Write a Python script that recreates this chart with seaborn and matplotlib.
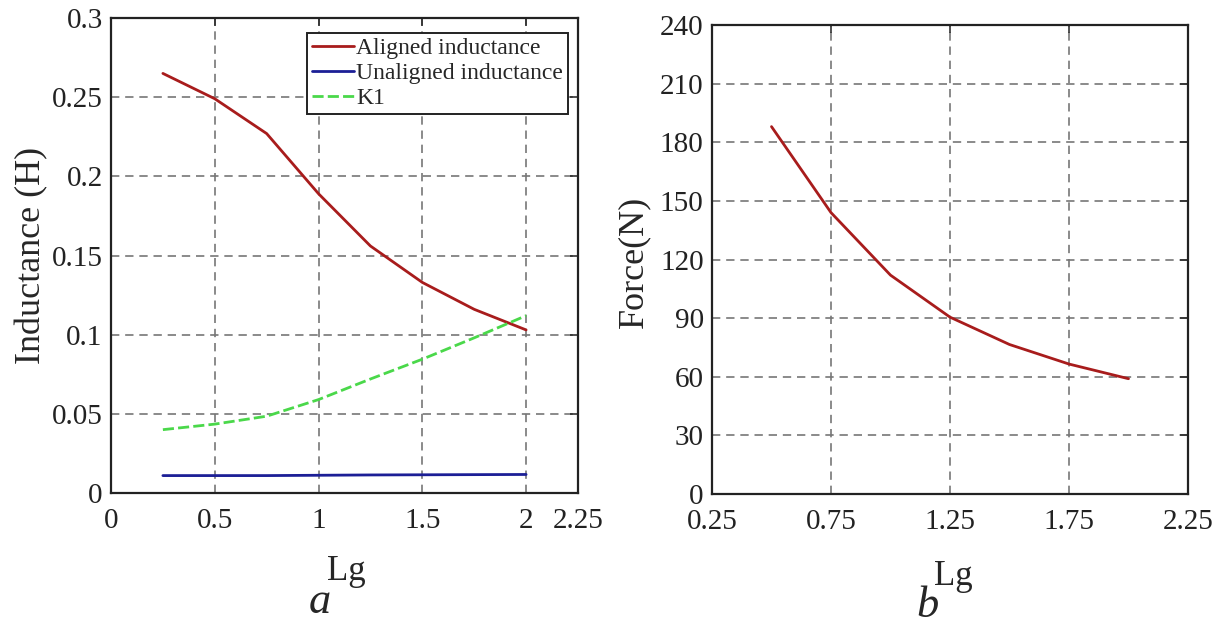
import matplotlib
matplotlib.use("Agg")
import matplotlib.pyplot as plt
import seaborn as sns
import pandas as pd

sns.set_theme(style="white")
plt.rcParams['font.family'] = ['Liberation Serif', 'DejaVu Serif']

# ---- data ----
lg_a = [0.25, 0.5, 0.75, 1.0, 1.25, 1.5, 1.75, 2.0]
aligned = [0.265, 0.249, 0.227, 0.189, 0.156, 0.133, 0.116, 0.103]
unaligned = [0.0110, 0.0110, 0.0110, 0.0112, 0.0114, 0.0115, 0.0116, 0.0117]
k1 = [0.040, 0.0435, 0.0485, 0.059, 0.072, 0.0845, 0.098, 0.112]

lg_b = [0.5, 0.75, 1.0, 1.25, 1.5, 1.75, 2.0]
force = [188, 144, 112, 90.5, 76.5, 66.5, 59]

xticks_a = [0, 0.5, 1, 1.5, 2, 2.25]
xticklabels_a = ["0", "0.5", "1", "1.5", "2", "2.25"]
yticks_a = [0, 0.05, 0.1, 0.15, 0.2, 0.25, 0.3]
yticklabels_a = ["0", "0.05", "0.1", "0.15", "0.2", "0.25", "0.3"]
xticks_b = [0.25, 0.75, 1.25, 1.75, 2.25]
xticklabels_b = ["0.25", "0.75", "1.25", "1.75", "2.25"]
yticks_b = [0, 30, 60, 90, 120, 150, 180, 210, 240]

df_a = pd.DataFrame({
    "Lg": lg_a * 3,
    "value": aligned + unaligned + k1,
    "series": ["Aligned inductance"] * len(lg_a) + ["Unaligned inductance"] * len(lg_a) + ["K1"] * len(lg_a),
})
df_b = pd.DataFrame({"Lg": lg_b, "Force": force})

colors = {"Aligned inductance": "#a81c1c", "Unaligned inductance": "#1c1f96", "K1": "#4ad84a"}

fig = plt.figure(figsize=(12.26, 6.25), dpi=100)
ax1 = fig.add_axes([111 / 1226, (625 - 493) / 625, 467 / 1226, 475 / 625])
ax2 = fig.add_axes([712 / 1226, (625 - 494) / 625, 476 / 1226, 469 / 625])

sns.lineplot(data=df_a, x="Lg", y="value", hue="series", style="series",
             palette=colors, dashes={"Aligned inductance": "", "Unaligned inductance": "", "K1": (4, 1.5)},
             linewidth=2.0, ax=ax1, legend=True)
sns.lineplot(data=df_b, x="Lg", y="Force", color="#a81c1c", linewidth=2.0, ax=ax2)

grid_kw = dict(color="#777777", linestyle=(0, (5, 3.5)), linewidth=1.2)
for ax in (ax1, ax2):
    ax.grid(True, **grid_kw)
    for s in ax.spines.values():
        s.set_color("#222222")
        s.set_linewidth(1.6)
    ax.tick_params(direction="in", length=6, width=1.1, top=True, right=True,
                   labelsize=21, colors="#222222")
    ax.tick_params(axis="x", pad=11)
    ax.tick_params(axis="y", pad=6)
    ax.set_axisbelow(True)

ax1.set_xlim(0, 2.25)
ax1.set_ylim(0, 0.3)
ax1.set_xticks(xticks_a)
ax1.set_xticklabels(xticklabels_a)
ax1.set_yticks(yticks_a)
ax1.set_yticklabels(yticklabels_a)
ax1.set_xlabel("Lg", fontsize=25)
ax1.set_ylabel("Inductance (H)", fontsize=26)
ax1.xaxis.set_label_coords(0.503, -0.165)
ax1.xaxis.label.set_va("center")
ax1.yaxis.set_label_coords(-0.17, 0.5)
ax1.yaxis.label.set_va("center")

ax2.set_xlim(0.25, 2.25)
ax2.set_ylim(0, 240)
ax2.set_xticks(xticks_b)
ax2.set_xticklabels(xticklabels_b)
ax2.set_yticks(yticks_b)
ax2.set_xlabel("Lg", fontsize=25)
ax2.set_ylabel("Force(N)", fontsize=26)
ax2.xaxis.set_label_coords(0.506, -0.175)
ax2.xaxis.label.set_va("center")
ax2.yaxis.set_label_coords(-0.165, 0.495)
ax2.yaxis.label.set_va("center")

leg = ax1.legend(loc="upper right", bbox_to_anchor=(1 - 10 / 467, 1 - 15 / 475), fontsize=17,
                 frameon=True, fancybox=False, handlelength=1.8, handletextpad=0.1,
                 borderpad=0.2, labelspacing=0.15, borderaxespad=0)
leg.get_frame().set_edgecolor("#222222")
leg.get_frame().set_linewidth(1.4)
leg.get_frame().set_alpha(1)

fig.text(320 / 1226, 1 - 602 / 625, "a", fontsize=32, style="italic", ha="center", va="center")
fig.text(927 / 1226, 1 - 606 / 625, "b", fontsize=32, style="italic", ha="center", va="center")

fig.savefig("out.png", dpi=100, facecolor="white")
